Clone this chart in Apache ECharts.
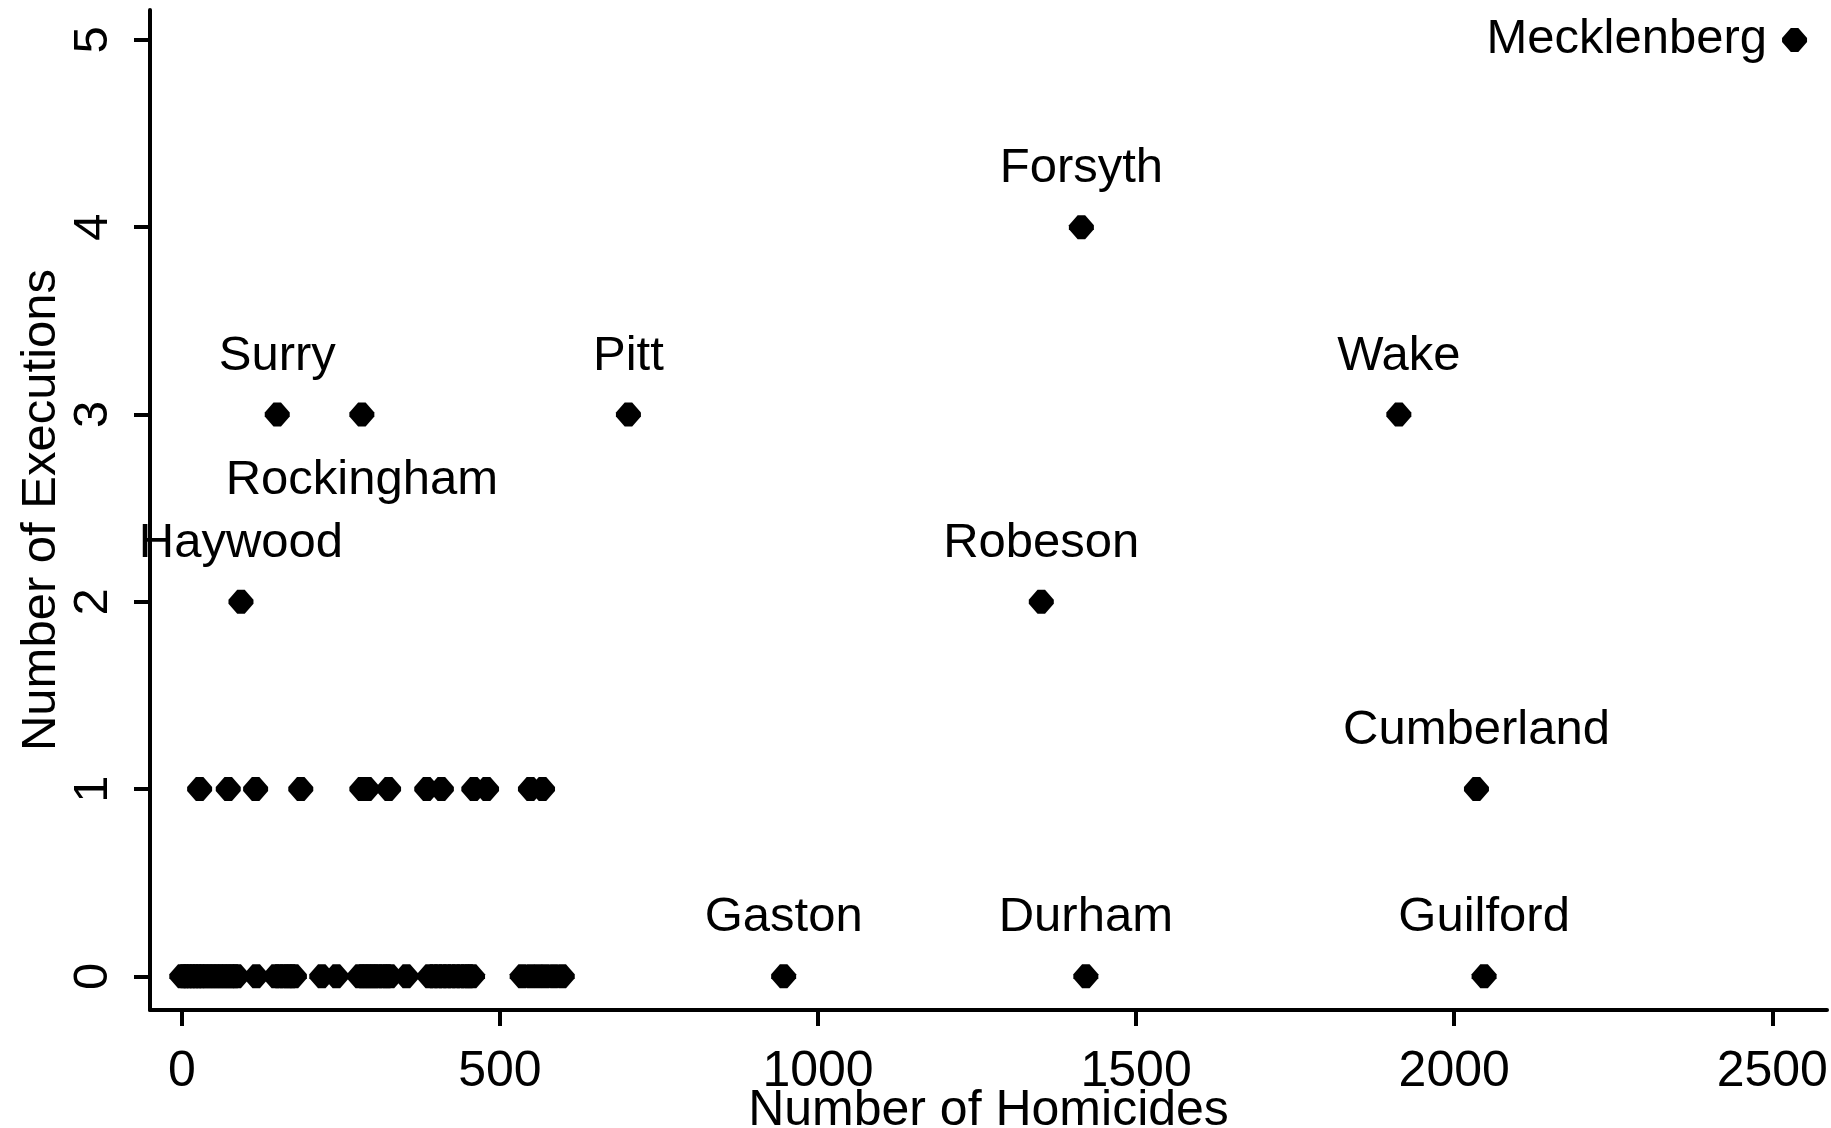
<!DOCTYPE html>
<html>
<head>
<meta charset="utf-8">
<script src="https://cdn.jsdelivr.net/npm/echarts@6/dist/echarts.min.js"></script>
<style>
  html, body { margin: 0; padding: 0; background: #fff; }
  #main { width: 1831px; height: 1128px; }
</style>
</head>
<body>
<div id="main"></div>
<script>
  // labelled counties
  var countyNames = ['Mecklenberg', 'Forsyth', 'Surry', 'Rockingham', 'Pitt', 'Wake',
    'Haywood', 'Robeson', 'Cumberland', 'Gaston', 'Durham', 'Guilford'];
  var countyHomicides = [2535, 1414, 150, 283, 702, 1913, 93, 1351, 2035, 946, 1421, 2047];
  var countyExecutions = [5, 4, 3, 3, 3, 3, 2, 2, 1, 0, 0, 0];

  // unlabelled counties, by number of executions
  var oneExecHomicides = [28, 73, 116, 187, 283, 292, 325, 385, 408, 459, 479, 548, 567];
  var zeroExecHomicides = [0, 4, 9, 14, 19, 24, 29, 34, 40, 46, 52, 58, 64, 70, 76, 82, 87,
    117, 147, 153, 160, 166, 172, 177, 220, 243,
    279, 285, 291, 297, 303, 309, 316, 322, 328, 353,
    389, 396, 403, 410, 417, 424, 431, 438, 445, 451, 457,
    535, 548, 560, 572, 585, 598];

  var xTicks = [0, 500, 1000, 1500, 2000, 2500];
  var yTicks = [0, 1, 2, 3, 4, 5];

  var labelLeft = ['Mecklenberg'];
  var labelBelow = ['Rockingham'];

  var font = "'Liberation Sans', Arial, sans-serif";
  var ink = '#000';
  // blunt diamond like the Stata marker
  var marker = 'path://M35,0L65,0L100,42L100,58L65,100L35,100L0,58L0,42Z';

  var myChart = echarts.init(document.getElementById('main'));

  var labelled = countyNames.map(function (name, i) {
    var pos = 'top', dist = 22;
    if (labelLeft.indexOf(name) >= 0) { pos = 'left'; dist = 15; }
    if (labelBelow.indexOf(name) >= 0) { pos = 'bottom'; dist = 29; }
    return {
      name: name,
      value: [countyHomicides[i], countyExecutions[i]],
      label: { position: pos, distance: dist }
    };
  });

  var plain = [];
  oneExecHomicides.forEach(function (h) { plain.push([h, 1]); });
  zeroExecHomicides.forEach(function (h) { plain.push([h, 0]); });

  var axisLine = { show: true, onZero: false, lineStyle: { color: '#000', width: 4 } };
  var axisTick = { show: true, length: 16, lineStyle: { color: '#000', width: 4 } };

  var option = {
    animation: false,
    backgroundColor: '#fff',
    grid: { left: 150, top: 10, right: 4, bottom: 118, containLabel: false, outerBoundsMode: 'none' },
    xAxis: {
      type: 'value',
      min: -50,
      max: 2586,
      splitLine: { show: false },
      axisLine: axisLine,
      axisTick: Object.assign({ customValues: xTicks }, axisTick),
      axisLabel: {
        customValues: xTicks,
        formatter: function (v) { return String(v); },
        margin: 37,
        color: ink, fontSize: 50, fontFamily: font
      },
      name: 'Number of Homicides',
      nameLocation: 'middle',
      nameGap: 76,
      nameMoveOverlap: false,
      nameTextStyle: { color: ink, fontSize: 50, fontFamily: font }
    },
    yAxis: {
      type: 'value',
      min: -0.18,
      max: 5.16,
      splitLine: { show: false },
      axisLine: axisLine,
      axisTick: Object.assign({ customValues: yTicks }, axisTick),
      axisLabel: {
        customValues: yTicks,
        rotate: 90,
        margin: 32,
        color: ink, fontSize: 49, fontFamily: font
      },
      name: 'Number of Executions',
      nameLocation: 'middle',
      nameGap: 84,
      nameMoveOverlap: false,
      nameTextStyle: { color: ink, fontSize: 49, fontFamily: font }
    },
    series: [
      {
        type: 'scatter',
        symbol: marker,
        symbolSize: [25, 24],
        itemStyle: { color: '#000', opacity: 1 },
        data: plain
      },
      {
        type: 'scatter',
        symbol: marker,
        symbolSize: [25, 24],
        itemStyle: { color: '#000', opacity: 1 },
        label: {
          show: true,
          formatter: '{b}',
          color: ink, fontSize: 49, fontFamily: font
        },
        labelLayout: { hideOverlap: false },
        data: labelled
      }
    ]
  };

  myChart.setOption(option);
</script>
</body>
</html>
